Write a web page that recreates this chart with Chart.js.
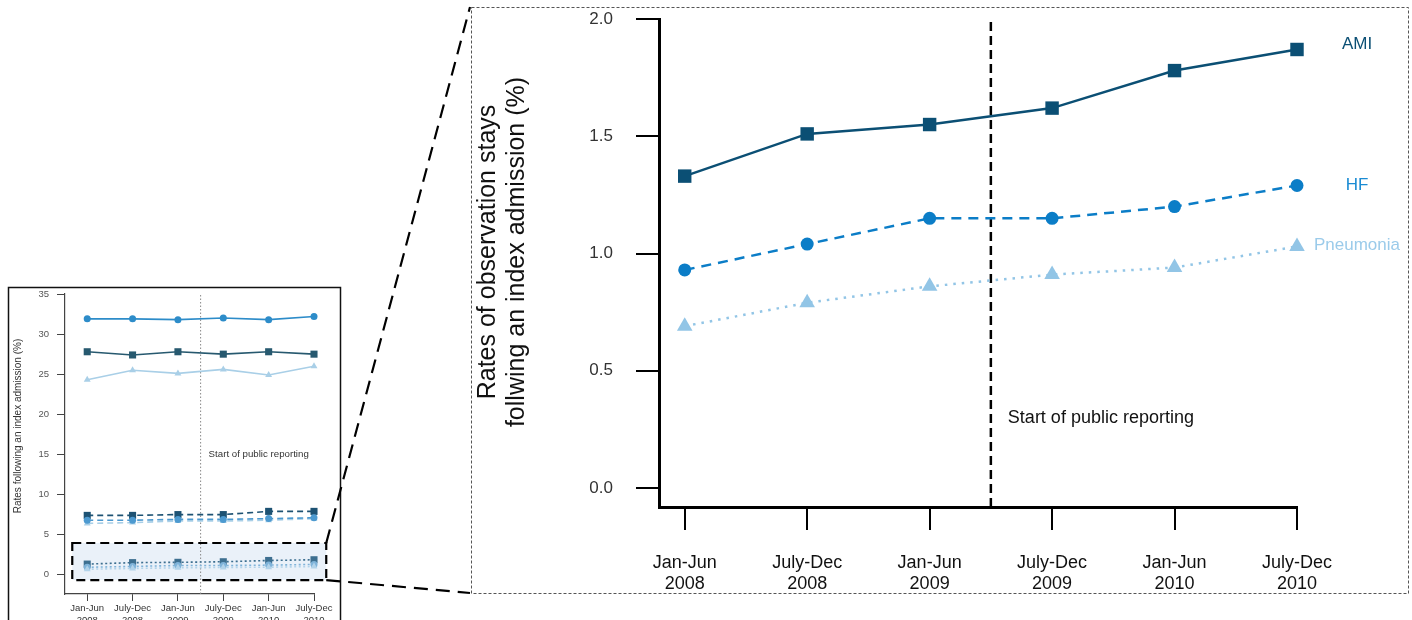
<!DOCTYPE html>
<html>
<head>
<meta charset="utf-8">
<script src="https://cdn.jsdelivr.net/npm/chart.js@4.4.1/dist/chart.umd.min.js"></script>
<style>
  body { margin: 0; background: #fff; }
  #page { position: relative; width: 1412px; height: 620px; overflow: hidden; }
  #page canvas { position: absolute; left: 0; top: 0; }
</style>
</head>
<body>
<div id="page">
  <canvas id="zoomChart" width="1412" height="620"></canvas>
  <canvas id="overviewChart" width="480" height="620"></canvas>
</div>
<script>
// half-year periods shown on both x axes
const periods = [
  ["Jan-Jun", "2008"], ["July-Dec", "2008"], ["Jan-Jun", "2009"],
  ["July-Dec", "2009"], ["Jan-Jun", "2010"], ["July-Dec", "2010"]
];
const reportingStart = 2.5; // between Jan-Jun 2009 and July-Dec 2009

// observation stays (the zoomed chart, dotted lines in the overview)
const obsAMI = [1.33, 1.51, 1.55, 1.62, 1.78, 1.87];
const obsHF = [0.93, 1.04, 1.15, 1.15, 1.20, 1.29];
const obsPneumonia = [0.69, 0.79, 0.86, 0.91, 0.94, 1.03];

// overview chart, solid lines
const readmitHF = [31.9, 31.9, 31.8, 32.0, 31.8, 32.2];
const readmitAMI = [27.8, 27.4, 27.8, 27.5, 27.8, 27.5];
const readmitPneumonia = [24.3, 25.5, 25.1, 25.6, 24.9, 26.0];

// overview chart, dashed lines
const edAMI = [7.4, 7.4, 7.5, 7.5, 7.9, 7.9];
const edHF = [6.8, 6.8, 6.9, 6.9, 7.0, 7.1];
const edPneumonia = [6.4, 6.5, 6.7, 6.7, 6.8, 7.0];

const zoomTicks = [0, 0.5, 1.0, 1.5, 2.0];
const overviewTicks = [0, 5, 10, 15, 20, 25, 30, 35];
const seriesNames = ["AMI", "HF", "Pneumonia"];

const amiColor = "#0b4f74";
const hfColor = "#0b7dc7";
const pneuColor = "#92c5e6";
const sans = "'Liberation Sans', Arial, sans-serif";

function toPoints(values) {
  return values.map((v, i) => ({ x: i, y: v }));
}

// ---------- zoomed chart (right) ----------
const zoomDecor = {
  id: "zoomDecor",
  afterDraw(chart) {
    const { ctx, scales } = chart;
    const xs = scales.x, ys = scales.y;
    ctx.save();

    // thin dashed frame around the zoomed chart
    ctx.strokeStyle = "#555";
    ctx.lineWidth = 1;
    ctx.setLineDash([3, 2]);
    ctx.strokeRect(471.5, 7.5, 937, 586);
    ctx.setLineDash([]);

    // two-line axis title
    ctx.fillStyle = "#111";
    ctx.font = "25px " + sans;
    ctx.textAlign = "center";
    ctx.textBaseline = "middle";
    ctx.translate(502, 252);
    ctx.rotate(-Math.PI / 2);
    ctx.fillText("Rates of observation stays", 0, -14);
    ctx.fillText("follwing an index admission (%)", 0, 15);
    ctx.setTransform(1, 0, 0, 1, 0, 0);

    // reporting note
    ctx.font = "18px " + sans;
    ctx.textAlign = "left";
    ctx.fillStyle = "#111";
    ctx.fillText("Start of public reporting", xs.getPixelForValue(reportingStart) + 17, ys.getPixelForValue(0.3));

    // series labels next to the last points
    const last = periods.length - 1;
    const lastValues = [obsAMI[last], obsHF[last], obsPneumonia[last]];
    const colors = [amiColor, "#1a8bd3", "#9bcbea"];
    const nudge = [-5, 0, -1];
    ctx.font = "17px " + sans;
    ctx.textAlign = "center";
    seriesNames.forEach((name, i) => {
      ctx.fillStyle = colors[i];
      ctx.fillText(name, xs.getPixelForValue(last) + 60, ys.getPixelForValue(lastValues[i]) + nudge[i]);
    });
    ctx.restore();
  }
};

new Chart(document.getElementById("zoomChart"), {
  type: "line",
  data: {
    datasets: [
      {
        label: "AMI", data: toPoints(obsAMI), clip: false,
        borderColor: amiColor, backgroundColor: amiColor, borderWidth: 2.5,
        pointStyle: "rect", pointRadius: 9.5, pointBorderWidth: 0
      },
      {
        label: "HF", data: toPoints(obsHF), clip: false,
        borderColor: hfColor, backgroundColor: hfColor, borderWidth: 2.5, borderDash: [10, 7],
        pointStyle: "circle", pointRadius: 6.5, pointBorderWidth: 0
      },
      {
        label: "Pneumonia", data: toPoints(obsPneumonia), clip: false,
        borderColor: pneuColor, backgroundColor: pneuColor, borderWidth: 2.5, borderDash: [2.5, 6],
        pointStyle: "triangle", pointRadius: 9, pointBorderWidth: 0
      },
      {
        label: "reporting", data: [{ x: reportingStart, y: -0.081 }, { x: reportingStart, y: 2.0 }],
        borderColor: "#000", borderWidth: 2.5, borderDash: [9, 5], pointRadius: 0
      }
    ]
  },
  options: {
    responsive: false,
    animation: false,
    layout: { padding: { left: 471, right: 115, top: 19, bottom: 0 } },
    plugins: { legend: { display: false }, tooltip: { enabled: false } },
    scales: {
      x: {
        type: "linear", min: -0.21, max: 5,
        afterBuildTicks: (s) => { s.ticks = periods.map((p, i) => ({ value: i })); },
        afterFit: (s) => { s.height = 113; },
        ticks: {
          callback: (v) => periods[v], maxRotation: 0, autoSkip: false,
          font: { family: sans, size: 18, lineHeight: 1.2 }, color: "#111", padding: 22
        },
        grid: { drawOnChartArea: false, color: "#000", lineWidth: 2, tickLength: 23 },
        border: { color: "#000", width: 3 }
      },
      y: {
        min: -0.081, max: 2.0,
        afterBuildTicks: (s) => { s.ticks = zoomTicks.map((v) => ({ value: v })); },
        afterFit: (s) => { s.width = 188; s.paddingTop = 0; s.paddingBottom = 0; },
        ticks: {
          callback: (v) => v.toFixed(1),
          font: { family: sans, size: 17 }, color: "#333", padding: 23
        },
        grid: { drawOnChartArea: false, color: "#000", lineWidth: 2, tickLength: 23 },
        border: { color: "#000", width: 3 }
      }
    }
  },
  plugins: [zoomDecor]
});

// ---------- overview chart (left) ----------
const zoomBox = { xMin: -0.33, xMax: 5.27, yMin: -0.66, yMax: 3.96 };

const overviewDecor = {
  id: "overviewDecor",
  beforeDatasetsDraw(chart) {
    const { ctx, scales } = chart;
    const left = scales.x.getPixelForValue(zoomBox.xMin);
    const right = scales.x.getPixelForValue(zoomBox.xMax);
    const top = scales.y.getPixelForValue(zoomBox.yMax);
    const bottom = scales.y.getPixelForValue(zoomBox.yMin);
    ctx.save();
    ctx.fillStyle = "#eaf1f9";
    ctx.fillRect(left, top, right - left, bottom - top);
    ctx.restore();
  },
  afterDraw(chart) {
    const { ctx, scales } = chart;
    const left = scales.x.getPixelForValue(zoomBox.xMin);
    const right = scales.x.getPixelForValue(zoomBox.xMax);
    const top = scales.y.getPixelForValue(zoomBox.yMax);
    const bottom = scales.y.getPixelForValue(zoomBox.yMin);
    ctx.save();

    // outer frame of the small figure
    ctx.strokeStyle = "#111";
    ctx.lineWidth = 1.5;
    ctx.strokeRect(8.5, 287.5, 332, 360);

    // axis title
    ctx.fillStyle = "#333";
    ctx.font = "10px " + sans;
    ctx.textAlign = "center";
    ctx.textBaseline = "middle";
    ctx.translate(18, 426);
    ctx.rotate(-Math.PI / 2);
    ctx.fillText("Rates following an index admission (%)", 0, 0);
    ctx.setTransform(1, 0, 0, 1, 0, 0);

    ctx.font = "9.7px " + sans;
    ctx.textAlign = "left";
    ctx.fillText("Start of public reporting", scales.x.getPixelForValue(reportingStart) + 8, scales.y.getPixelForValue(15));

    // zoom box and the connectors to the big chart
    ctx.strokeStyle = "#000";
    ctx.lineWidth = 2.2;
    ctx.setLineDash([9, 5]);
    ctx.strokeRect(left, top, right - left, bottom - top);
    ctx.setLineDash([14, 8]);
    ctx.beginPath();
    ctx.moveTo(right, top);
    ctx.lineTo(470, 7);
    ctx.moveTo(right, bottom);
    ctx.lineTo(470, 593);
    ctx.stroke();
    ctx.restore();
  }
};

function overviewSeries(values, color, dash, style, radius) {
  return {
    data: toPoints(values), clip: false,
    borderColor: color, backgroundColor: color, borderWidth: 1.6, borderDash: dash,
    pointStyle: style, pointRadius: radius, pointBorderWidth: 0
  };
}

new Chart(document.getElementById("overviewChart"), {
  type: "line",
  data: {
    datasets: [
      overviewSeries(readmitHF, "#2d8cc9", [], "circle", 3.5),
      overviewSeries(readmitAMI, "#27596f", [], "rect", 5),
      overviewSeries(readmitPneumonia, "#a9cfe7", [], "triangle", 4),
      overviewSeries(edHF, "#4d9ad0", [6, 4], "circle", 3.5),
      overviewSeries(edPneumonia, "#a9cfe7", [6, 4], "triangle", 4),
      overviewSeries(edAMI, "#1d5273", [6, 4], "rect", 5),
      overviewSeries(obsPneumonia, "#b2d3ea", [2, 2.5], "triangle", 4),
      overviewSeries(obsHF, "#7fb3d9", [2, 2.5], "circle", 3.5),
      overviewSeries(obsAMI, "#3d6f90", [2, 2.5], "rect", 5),
      {
        data: [{ x: reportingStart, y: -2.4 }, { x: reportingStart, y: 35.1 }],
        borderColor: "#888", borderWidth: 1, borderDash: [1.5, 2], pointRadius: 0
      }
    ]
  },
  options: {
    responsive: false,
    animation: false,
    layout: { padding: { left: 0, right: 166, top: 294, bottom: 0 } },
    plugins: { legend: { display: false }, tooltip: { enabled: false } },
    scales: {
      x: {
        type: "linear", min: -0.49, max: 5,
        afterBuildTicks: (s) => { s.ticks = periods.map((p, i) => ({ value: i })); },
        afterFit: (s) => { s.height = 26; },
        ticks: {
          callback: (v) => periods[v], maxRotation: 0, autoSkip: false,
          font: { family: sans, size: 9.5, lineHeight: 1.2 }, color: "#333", padding: 2
        },
        grid: { drawOnChartArea: false, color: "#444", lineWidth: 1, tickLength: 7 },
        border: { color: "#444", width: 1.2 }
      },
      y: {
        min: -2.4, max: 35,
        afterBuildTicks: (s) => { s.ticks = overviewTicks.map((v) => ({ value: v })); },
        afterFit: (s) => { s.width = 65; },
        ticks: { font: { family: sans, size: 9.5 }, color: "#555", padding: 8 },
        grid: { drawOnChartArea: false, color: "#444", lineWidth: 1, tickLength: 8 },
        border: { color: "#444", width: 1.2 }
      }
    }
  },
  plugins: [overviewDecor]
});
</script>
</body>
</html>
